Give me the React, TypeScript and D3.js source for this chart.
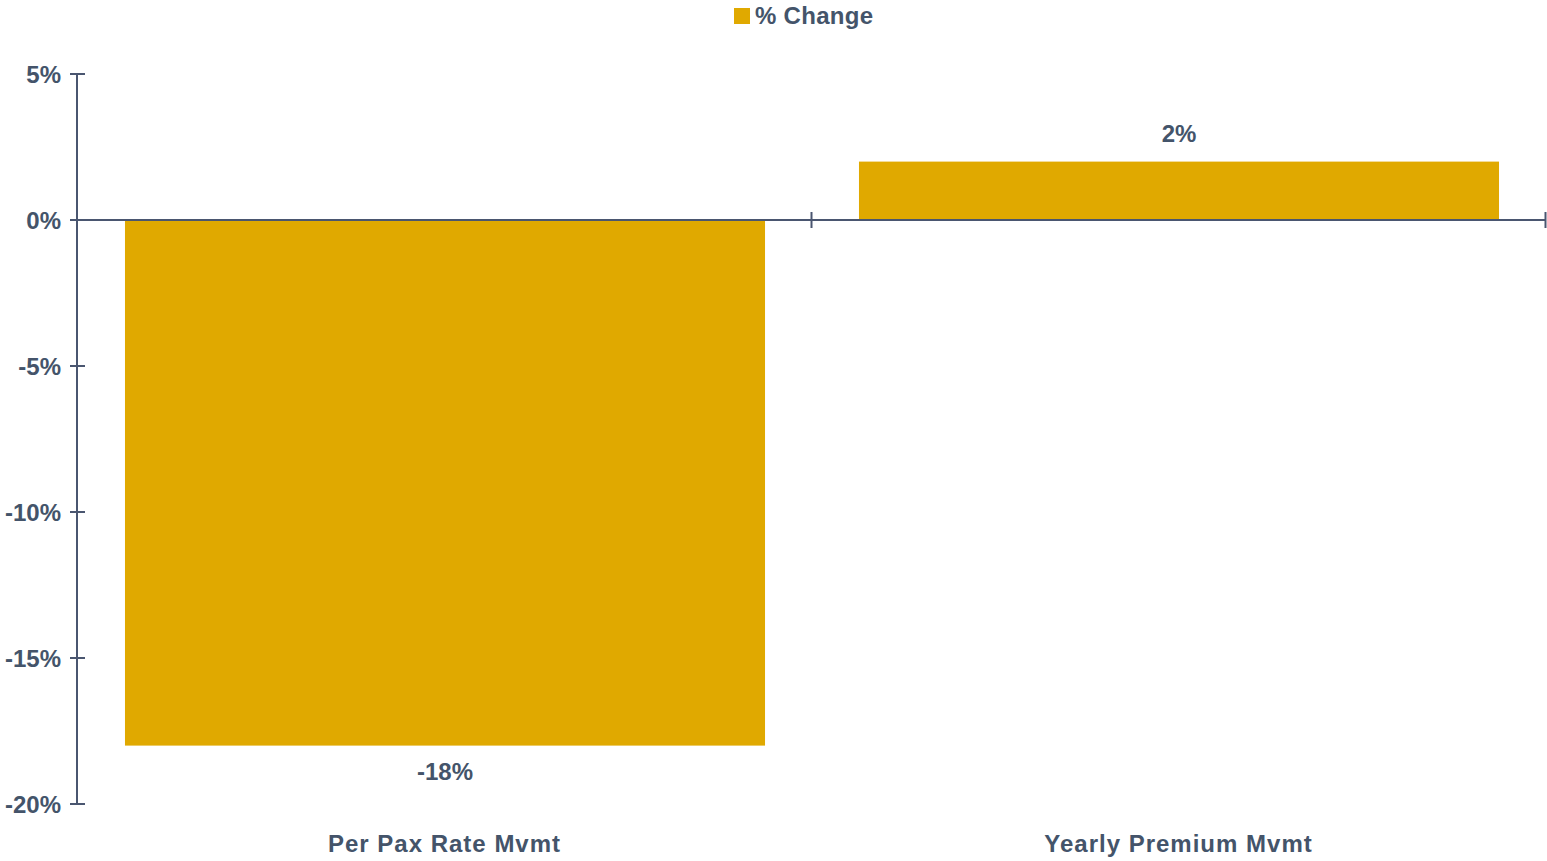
import React from "react";
import * as d3 from "d3";

const categories = ["Per Pax Rate Mvmt", "Yearly Premium Mvmt"];
const values = [-18, 2];
const valueLabels = ["-18%", "2%"];
const yTicks = [5, 0, -5, -10, -15, -20];
const seriesName = "% Change";

const W = 1547;
const H = 861;
const BAR = "#E0A900";
const TEXT = "#44546A";
const AXIS = "#4A5670";
const FONT = "'Liberation Sans', Arial, sans-serif";

export default function App() {
  const left = 77;
  const right = 1545;
  const y = d3.scaleLinear().domain([-20, 5]).range([804, 74]);
  const x = d3.scaleBand<string>().domain(categories).range([78, 1546]).paddingInner(0.128).paddingOuter(0.064);
  const band = d3.scaleBand<string>().domain(categories).range([left + 0.5, right + 0.5]).padding(0);
  const y0 = y(0);

  return (
    <div style={{ position: "absolute", left: 0, top: 0 }}>
      <svg width={W} height={H} style={{ display: "block", fontFamily: FONT }}>
        <rect width={W} height={H} fill="#fff" />
        {/* legend */}
        <rect x={734} y={8} width={16} height={16} fill={BAR} />
        <text x={755} y={24} fontSize={24} fontWeight="bold" letterSpacing={0.3} fill={TEXT}>{seriesName}</text>

        {/* bars */}
        {categories.map((c, i) => {
          const v = values[i];
          const yTop = Math.min(y(v), y0);
          const h = Math.abs(y(v) - y0);
          const cx = (x(c) as number) + x.bandwidth() / 2;
          return (
            <g key={c}>
              <rect x={x(c)} y={yTop} width={x.bandwidth()} height={h} fill={BAR} />
              <text
                x={cx}
                y={v >= 0 ? y(v) - 20 : y(v) + 34}
                textAnchor="middle"
                fontSize={24}
                fontWeight="bold"
                fill={TEXT}
              >
                {valueLabels[i]}
              </text>
              <text
                x={(band(c) as number) + band.bandwidth() / 2}
                y={852}
                textAnchor="middle"
                fontSize={24}
                fontWeight="bold"
                letterSpacing={1}
                fill={TEXT}
              >
                {c}
              </text>
            </g>
          );
        })}

        {/* y axis */}
        <line x1={left} x2={left} y1={y(5)} y2={y(-20)} stroke={AXIS} strokeWidth={2} />
        {yTicks.map((t) => (
          <g key={t}>
            <line x1={left - 7} x2={left + 8} y1={y(t)} y2={y(t)} stroke={AXIS} strokeWidth={2} />
            <text x={61} y={y(t) + 9} textAnchor="end" fontSize={24} fontWeight="bold" fill={TEXT}>
              {t + "%"}
            </text>
          </g>
        ))}

        {/* x axis */}
        <line x1={left} x2={right} y1={y0} y2={y0} stroke={AXIS} strokeWidth={2} />
        {categories.map((c) => {
          const tx = (band(c) as number) + band.bandwidth();
          return <line key={c} x1={tx} x2={tx} y1={y0 - 8} y2={y0 + 8} stroke={AXIS} strokeWidth={2} />;
        })}
      </svg>
    </div>
  );
}
